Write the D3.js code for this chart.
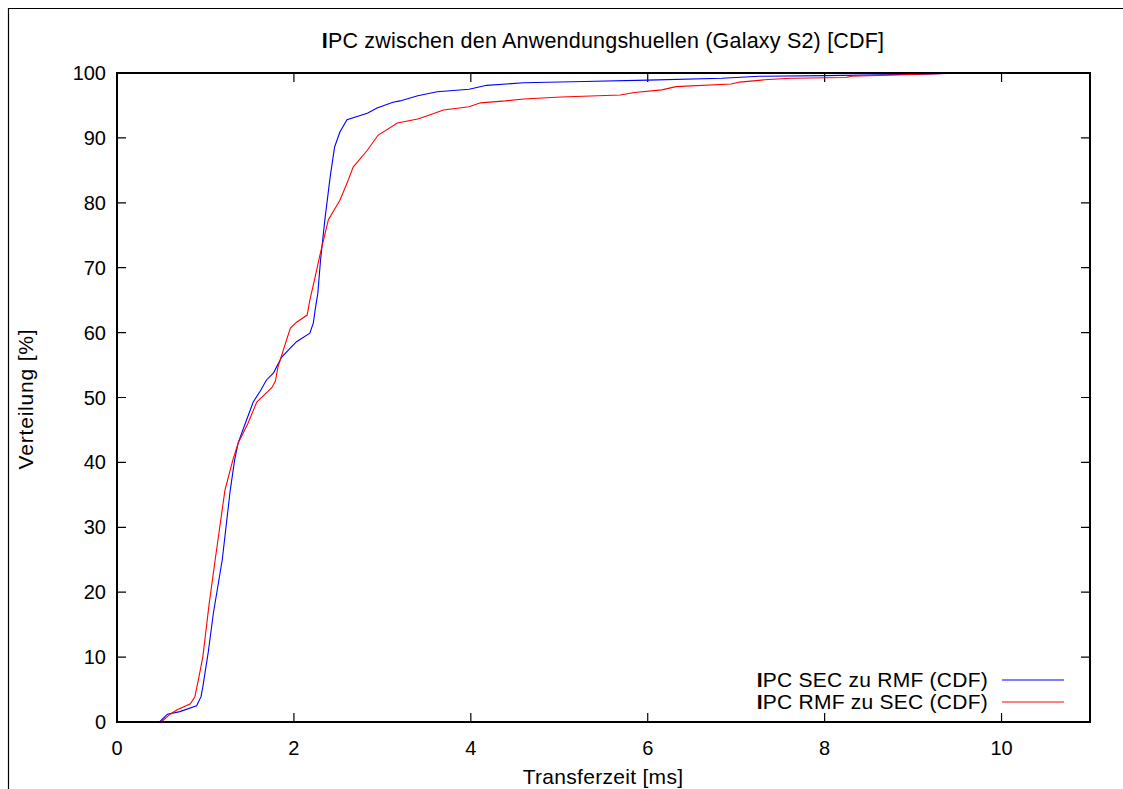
<!DOCTYPE html>
<html>
<head>
<meta charset="utf-8">
<script src="https://cdn.jsdelivr.net/npm/d3@7"></script>
<style>
  body { margin: 0; background: #fff; }
  text { font-family: "Liberation Sans", Arial, sans-serif; fill: #000; }
</style>
</head>
<body>
<div class="chart"></div>
<script>
// chart data
var xTicks = [0, 2, 4, 6, 8, 10];
var yTicks = [0, 10, 20, 30, 40, 50, 60, 70, 80, 90, 100];

var secX = [0.48, 0.57, 0.71, 0.9, 0.95, 0.97, 1.03, 1.09, 1.19, 1.28, 1.33, 1.37, 1.45, 1.54, 1.62, 1.69, 1.77, 1.86, 1.95, 2.03, 2.18, 2.22, 2.24, 2.27, 2.3, 2.35, 2.41, 2.46, 2.52, 2.6, 2.83, 2.94, 3.12, 3.2, 3.4, 3.62, 3.98, 4.18, 4.6, 5.28, 6, 6.84, 7.26, 8, 9.08, 9.6, 11];
var secY = [0, 1.2, 1.6, 2.5, 3.9, 5.4, 10.6, 16.8, 25, 35.7, 40.4, 43, 46, 49.3, 51, 52.7, 53.8, 56.2, 57.5, 58.6, 59.9, 61.5, 63.5, 66, 71, 77.4, 84, 88.6, 90.9, 92.8, 93.8, 94.6, 95.5, 95.7, 96.5, 97.1, 97.5, 98.1, 98.5, 98.7, 98.9, 99.2, 99.5, 99.6, 99.8, 100, 100];

var rmfX = [0.5, 0.6, 0.68, 0.83, 0.88, 0.92, 0.97, 1.04, 1.11, 1.22, 1.31, 1.37, 1.48, 1.58, 1.75, 1.79, 1.82, 1.88, 1.96, 2.03, 2.15, 2.18, 2.24, 2.3, 2.39, 2.52, 2.6, 2.67, 2.83, 2.95, 3.17, 3.4, 3.51, 3.69, 3.98, 4.11, 4.39, 4.6, 5.02, 5.69, 5.85, 6.16, 6.32, 6.94, 7.04, 7.36, 7.62, 8.24, 8.3, 9.08, 9.5, 11];
var rmfY = [0, 1.2, 1.9, 2.8, 3.9, 6.5, 10, 18, 25, 35.7, 40.4, 43, 46, 49.3, 51.5, 52.5, 54.7, 57.3, 60.7, 61.6, 62.7, 65, 68.6, 72.3, 77.4, 80.4, 83, 85.5, 88.1, 90.4, 92.3, 92.9, 93.4, 94.3, 94.8, 95.4, 95.7, 96, 96.3, 96.6, 97, 97.4, 97.9, 98.3, 98.6, 99, 99.2, 99.3, 99.5, 99.8, 100, 100];

var seriesNames = ["PC SEC zu RMF (CDF)", "PC RMF zu SEC (CDF)"];
var seriesColors = ["#0000ff", "#ff0000"];

var svgWidth = 1123;
var svgHeight = 789;

var margin = { top: 73, right: 33, bottom: 67, left: 117 };
var width = svgWidth - margin.left - margin.right;
var height = svgHeight - margin.top - margin.bottom;

var svg = d3.select(".chart")
  .append("svg")
  .attr("width", svgWidth)
  .attr("height", svgHeight);

// outer frame
svg.append("path")
  .attr("d", "M8.5," + svgHeight + "V8.5H" + svgWidth)
  .attr("fill", "none")
  .attr("stroke", "#000")
  .attr("stroke-width", 1.2);

var chartGroup = svg.append("g")
  .attr("transform", `translate(${margin.left}, ${margin.top})`);

var x = d3.scaleLinear().domain([0, 11]).range([0, width]);
var y = d3.scaleLinear().domain([0, 100]).range([height, 0]);

// ticks, inward, mirrored on all sides
var tickLen = 9;
chartGroup.selectAll(".xt").data(xTicks).enter().append("path")
  .attr("d", d => `M${x(d)},${height}v${-tickLen}M${x(d)},0v${tickLen}`)
  .attr("stroke", "#000").attr("stroke-width", 1.2);
chartGroup.selectAll(".yt").data(yTicks).enter().append("path")
  .attr("d", d => `M0,${y(d)}h${tickLen}M${width},${y(d)}h${-tickLen}`)
  .attr("stroke", "#000").attr("stroke-width", 1.2);

chartGroup.selectAll(".xl").data(xTicks).enter().append("text")
  .attr("x", d => x(d))
  .attr("y", height + 33)
  .attr("text-anchor", "middle")
  .style("font-size", "20px")
  .text(d => d);
chartGroup.selectAll(".yl").data(yTicks).enter().append("text")
  .attr("x", -11)
  .attr("y", d => y(d) + 7)
  .attr("text-anchor", "end")
  .style("font-size", "20px")
  .text(d => d);

// series
var line = d3.line()
  .x(d => x(d[0]))
  .y(d => y(d[1]));

var series = [d3.zip(secX, secY), d3.zip(rmfX, rmfY)];
series.forEach(function(s, i) {
  chartGroup.append("path")
    .datum(s)
    .attr("d", line)
    .attr("fill", "none")
    .attr("stroke", seriesColors[i])
    .attr("stroke-width", 1.1);
});

// axis box
chartGroup.append("rect")
  .attr("width", width).attr("height", height)
  .attr("fill", "none")
  .attr("stroke", "#000")
  .attr("stroke-width", 2);

// legend
seriesNames.forEach(function(name, i) {
  var ly = 607 + i * 22;
  var t = chartGroup.append("text")
    .attr("x", 871)
    .attr("y", ly + 7)
    .attr("text-anchor", "end")
    .style("font-size", "21px")
    .style("letter-spacing", "0.25px");
  t.append("tspan").style("font-weight", "bold").text("I");
  t.append("tspan").text(name);
  chartGroup.append("line")
    .attr("x1", 885).attr("x2", 947)
    .attr("y1", ly).attr("y2", ly)
    .attr("stroke", seriesColors[i])
    .attr("stroke-width", 1.1);
});

// title + axis labels
var title = svg.append("text")
  .attr("x", 603).attr("y", 48)
  .attr("text-anchor", "middle")
  .style("font-size", "21.5px")
  .style("letter-spacing", "0.2px");
title.append("tspan").style("font-weight", "bold").text("I");
title.append("tspan").text("PC zwischen den Anwendungshuellen (Galaxy S2) [CDF]");

svg.append("text")
  .attr("x", 603).attr("y", 784)
  .attr("text-anchor", "middle")
  .style("font-size", "21px")
  .style("letter-spacing", "0.3px")
  .text("Transferzeit [ms]");

svg.append("text")
  .attr("transform", "translate(33, 399) rotate(-90)")
  .attr("text-anchor", "middle")
  .style("font-size", "21px")
  .style("letter-spacing", "0.8px")
  .text("Verteilung [%]");
</script>
</body>
</html>
